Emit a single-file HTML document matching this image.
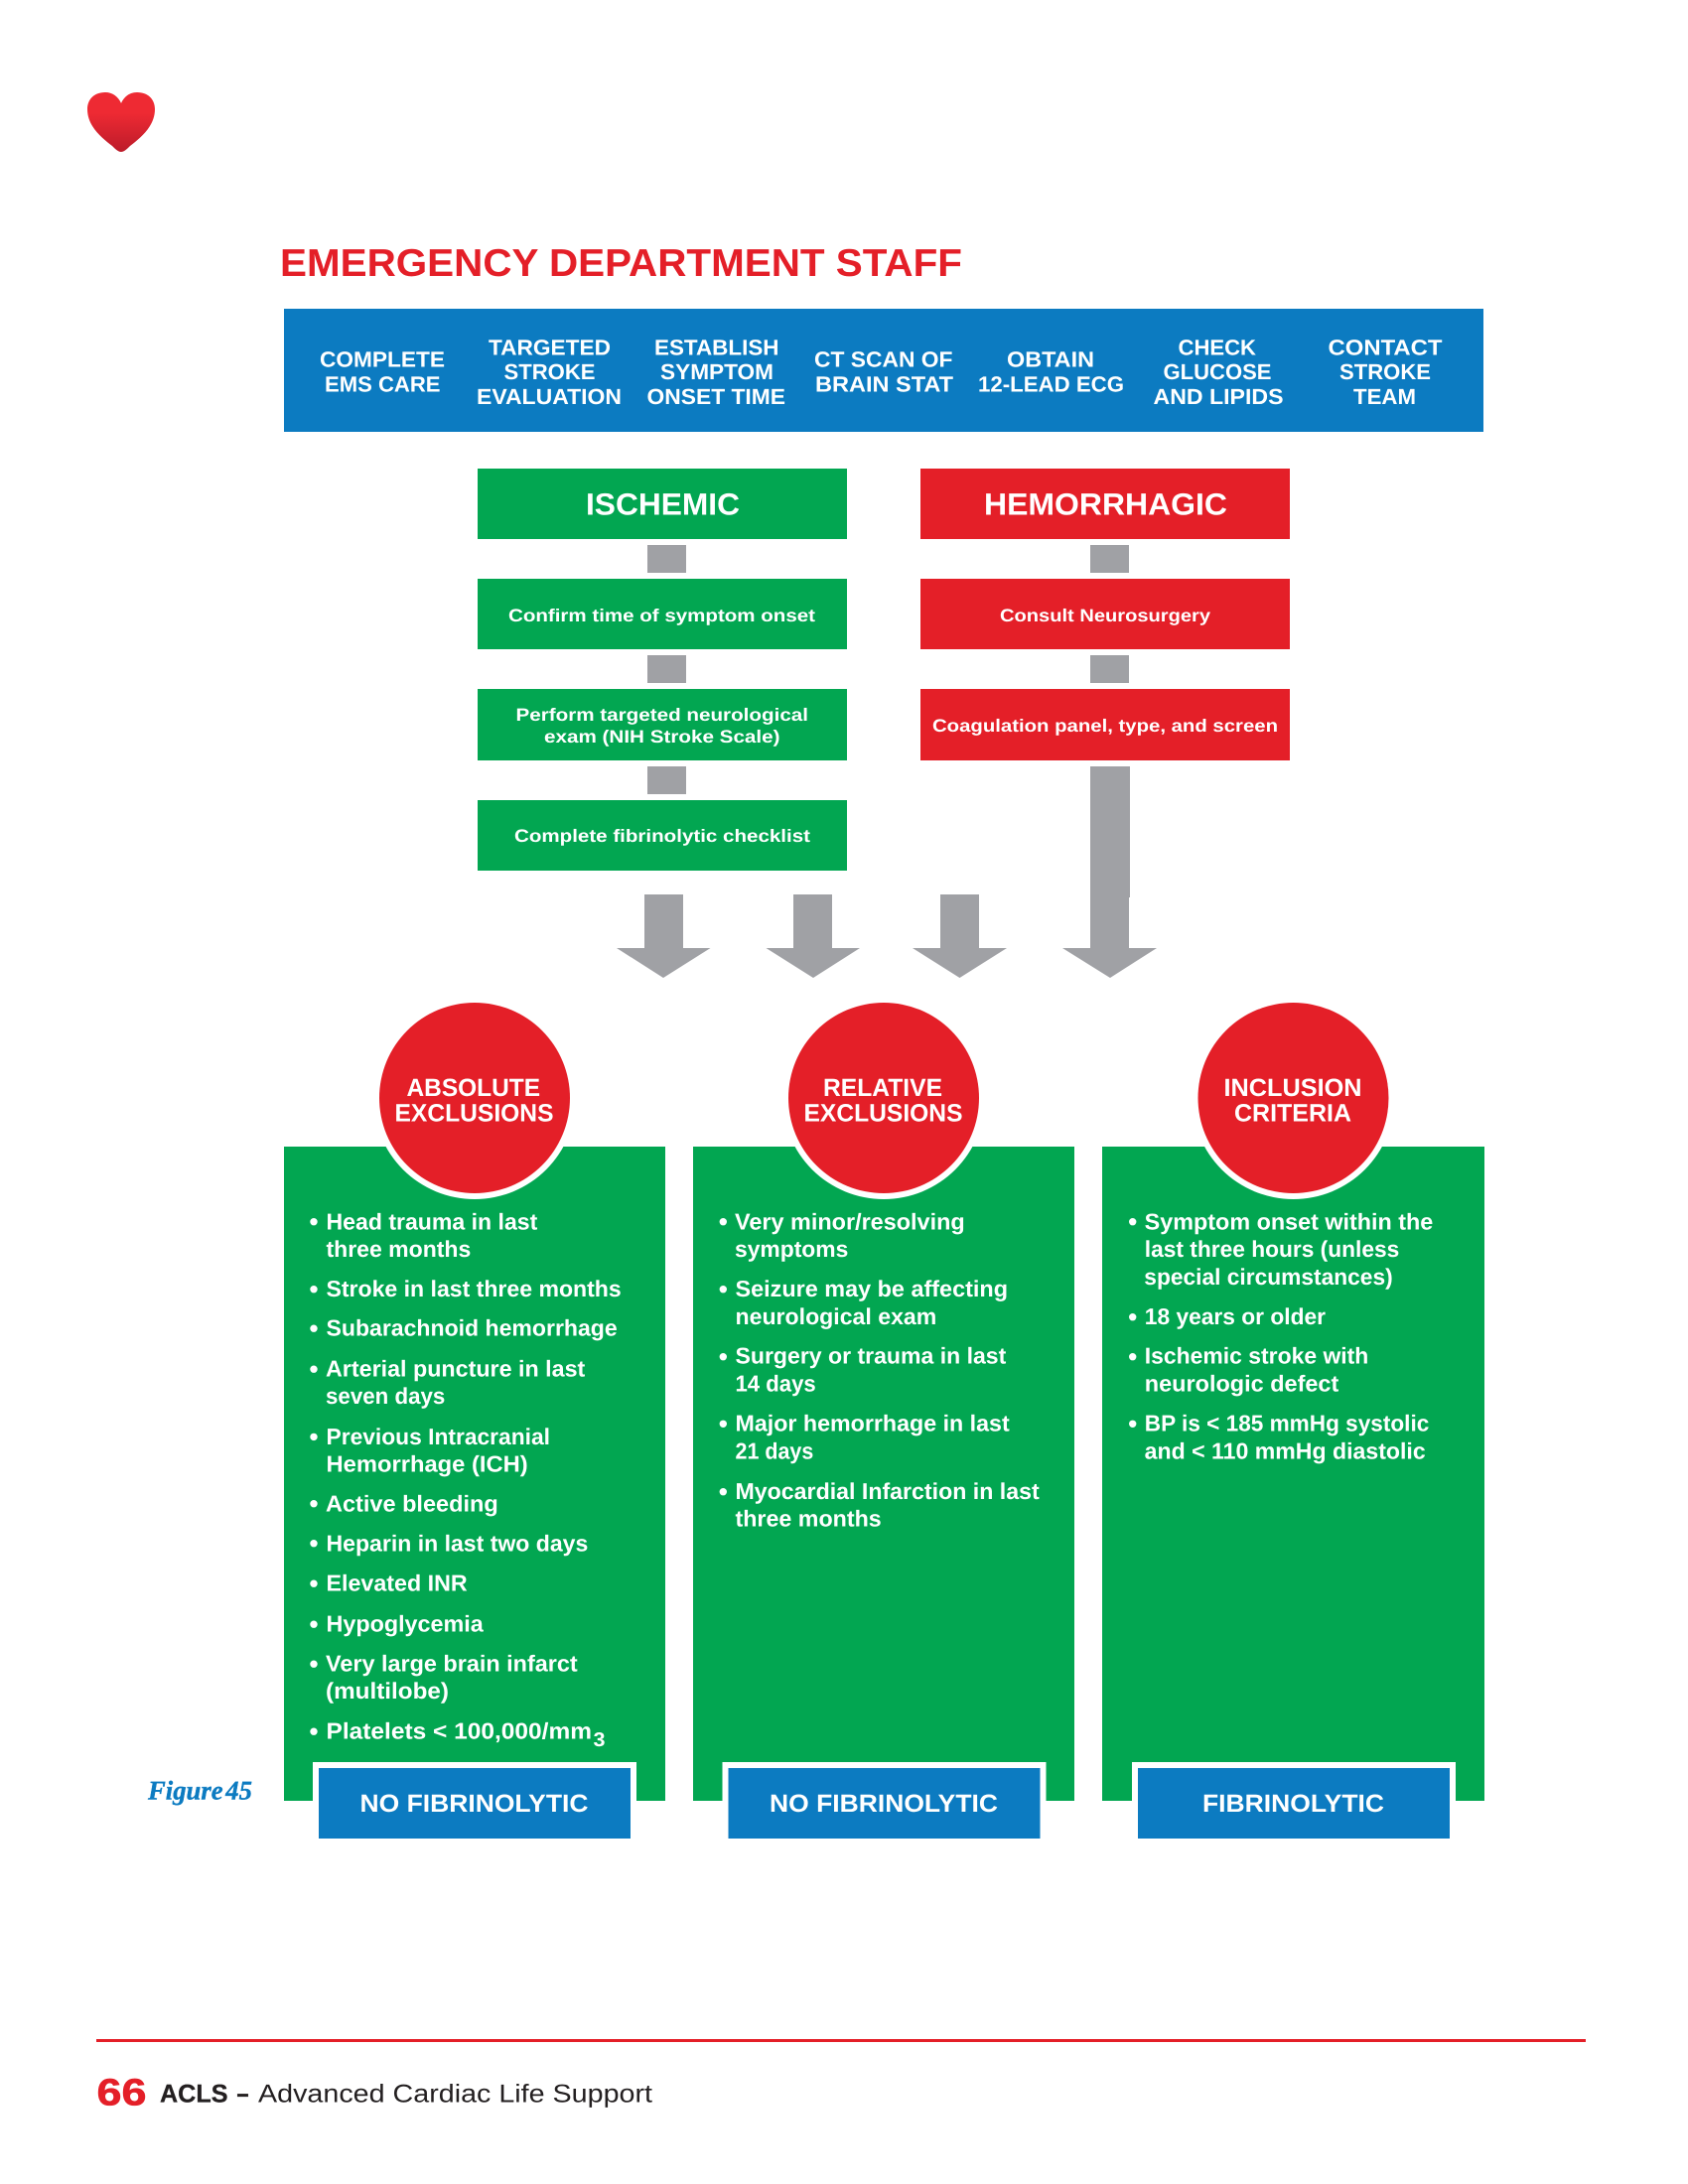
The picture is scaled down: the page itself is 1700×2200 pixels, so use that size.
<!DOCTYPE html>
<html lang="en">
<head>
<meta charset="utf-8">
<title>Emergency Department Staff</title>
<style>
html,body{margin:0;padding:0;background:#fff;}
svg{display:block;width:1700px;height:2200px;}
text{font-family:"Liberation Sans",sans-serif;font-weight:700;fill:#fff;text-rendering:geometricPrecision;}
.h{font-size:22px;}
.s{font-size:18px;}
.c{font-size:25px;}
.b{font-size:23px;}
.t{font-size:31px;}
</style>
</head>
<body>
<svg xmlns="http://www.w3.org/2000/svg" width="1700" height="2200" viewBox="0 0 1700 2200">
<defs>
<linearGradient id="hg" x1="0" y1="0" x2="0" y2="1"><stop offset="0.35" stop-color="#ee2a33"/><stop offset="1" stop-color="#bc1b2a"/></linearGradient>
</defs>
<rect width="1700" height="2200" fill="#fff"/>
<path d="M122 153C119 153 116 150 113 147C104 140 88 128 88 110C88 100 95 93 106 93C113 93 119 97 122 104C125 97 131 93 138 93C149 93 156 100 156 110C156 128 140 140 131 147C128 150 125 153 122 153Z" fill="url(#hg)"/>

<text x="282" y="278" font-size="39" textLength="687" lengthAdjust="spacingAndGlyphs" style="fill:#e41f28">EMERGENCY DEPARTMENT STAFF</text>

<rect x="286" y="311" width="1208" height="124" fill="#0c7bc1"/>
<g class="h">
<text class="h" x="322" y="369.3" textLength="126" lengthAdjust="spacingAndGlyphs">COMPLETE</text>
<text class="h" x="327" y="394.3" textLength="116.5" lengthAdjust="spacingAndGlyphs">EMS CARE</text>
<text class="h" x="492" y="357.3" textLength="123" lengthAdjust="spacingAndGlyphs">TARGETED</text>
<text class="h" x="507.5" y="382" textLength="92" lengthAdjust="spacingAndGlyphs">STROKE</text>
<text class="h" x="480" y="407" textLength="146" lengthAdjust="spacingAndGlyphs">EVALUATION</text>
<text class="h" x="659" y="357.3" textLength="125.5" lengthAdjust="spacingAndGlyphs">ESTABLISH</text>
<text class="h" x="665" y="382" textLength="114" lengthAdjust="spacingAndGlyphs">SYMPTOM</text>
<text class="h" x="651.5" y="407" textLength="139.5" lengthAdjust="spacingAndGlyphs">ONSET TIME</text>
<text class="h" x="820" y="369.3" textLength="139.5" lengthAdjust="spacingAndGlyphs">CT SCAN OF</text>
<text class="h" x="821" y="394.3" textLength="139" lengthAdjust="spacingAndGlyphs">BRAIN STAT</text>
<text class="h" x="1014" y="369.3" textLength="88" lengthAdjust="spacingAndGlyphs">OBTAIN</text>
<text class="h" x="985" y="394.3" textLength="147" lengthAdjust="spacingAndGlyphs">12-LEAD ECG</text>
<text class="h" x="1186.5" y="357.3" textLength="78.5" lengthAdjust="spacingAndGlyphs">CHECK</text>
<text class="h" x="1171.5" y="382" textLength="109" lengthAdjust="spacingAndGlyphs">GLUCOSE</text>
<text class="h" x="1161.5" y="407" textLength="131" lengthAdjust="spacingAndGlyphs">AND LIPIDS</text>
<text class="h" x="1337.5" y="357.3" textLength="115" lengthAdjust="spacingAndGlyphs">CONTACT</text>
<text class="h" x="1349" y="382" textLength="92" lengthAdjust="spacingAndGlyphs">STROKE</text>
<text class="h" x="1363" y="407" textLength="63" lengthAdjust="spacingAndGlyphs">TEAM</text>
</g>

<g fill="#02a651">
<rect x="481" y="472" width="372" height="71"/>
<rect x="481" y="583" width="372" height="71"/>
<rect x="481" y="694" width="372" height="72"/>
<rect x="481" y="806" width="372" height="71"/>
</g>
<g fill="#e41f28">
<rect x="927" y="472" width="372" height="71"/>
<rect x="927" y="583" width="372" height="71"/>
<rect x="927" y="694" width="372" height="72"/>
</g>
<g fill="#a0a1a5">
<rect x="652" y="549" width="39" height="28"/>
<rect x="652" y="660" width="39" height="28"/>
<rect x="652" y="772" width="39" height="28"/>
<rect x="1098" y="549" width="39" height="28"/>
<rect x="1098" y="660" width="39" height="28"/>
<polygon points="1098,772 1138,772 1138,904 1137,904 1137,955 1165,955 1118,985 1070,955 1098,955"/>
<polygon points="649,901 688,901 688,955 715.5,955 668,985 621,955 649,955"/>
<polygon points="799,901 838,901 838,955 866,955 819,985 771.5,955 799,955"/>
<polygon points="947,901 986,901 986,955 1014,955 966.5,985 919,955 947,955"/>
</g>

<text class="t" x="590" y="518.6" textLength="155" lengthAdjust="spacingAndGlyphs">ISCHEMIC</text>
<text class="t" x="991" y="518.6" textLength="245" lengthAdjust="spacingAndGlyphs">HEMORRHAGIC</text>
<text class="s" x="512" y="626" textLength="309" lengthAdjust="spacingAndGlyphs">Confirm time of symptom onset</text>
<text class="s" x="1007" y="626" textLength="212" lengthAdjust="spacingAndGlyphs">Consult Neurosurgery</text>
<text class="s" x="519.5" y="726" textLength="294.5" lengthAdjust="spacingAndGlyphs">Perform targeted neurological</text>
<text class="s" x="548" y="748" textLength="237.5" lengthAdjust="spacingAndGlyphs">exam (NIH Stroke Scale)</text>
<text class="s" x="939" y="737" textLength="348" lengthAdjust="spacingAndGlyphs">Coagulation panel, type, and screen</text>
<text class="s" x="518" y="848" textLength="298" lengthAdjust="spacingAndGlyphs">Complete fibrinolytic checklist</text>

<rect x="286" y="1155" width="384" height="659" fill="#02a651"/>
<rect x="698" y="1155" width="384" height="659" fill="#02a651"/>
<rect x="1110" y="1155" width="385" height="659" fill="#02a651"/>

<g fill="#fff">
<circle cx="478" cy="1106" r="102"/>
<circle cx="890" cy="1106" r="102"/>
<circle cx="1302.5" cy="1106" r="102"/>
</g>
<g fill="#e41f28">
<circle cx="478" cy="1106" r="96"/>
<circle cx="890" cy="1106" r="96"/>
<circle cx="1302.5" cy="1106" r="96"/>
</g>
<text class="c" x="409.5" y="1104" textLength="134.5" lengthAdjust="spacingAndGlyphs">ABSOLUTE</text>
<text class="c" x="397.5" y="1129.3" textLength="160" lengthAdjust="spacingAndGlyphs">EXCLUSIONS</text>
<text class="c" x="829" y="1104" textLength="120" lengthAdjust="spacingAndGlyphs">RELATIVE</text>
<text class="c" x="809.5" y="1129.3" textLength="160" lengthAdjust="spacingAndGlyphs">EXCLUSIONS</text>
<text class="c" x="1232.5" y="1104" textLength="139" lengthAdjust="spacingAndGlyphs">INCLUSION</text>
<text class="c" x="1243" y="1129.3" textLength="118" lengthAdjust="spacingAndGlyphs">CRITERIA</text>

<g fill="#fff">
<circle cx="316" cy="1230.7" r="3.7"/><circle cx="316" cy="1298.7" r="3.7"/><circle cx="316" cy="1338.2" r="3.7"/><circle cx="316" cy="1379.2" r="3.7"/><circle cx="316" cy="1447.4" r="3.7"/><circle cx="316" cy="1514.7" r="3.7"/><circle cx="316" cy="1554.7" r="3.7"/><circle cx="316" cy="1595.2" r="3.7"/><circle cx="316" cy="1636.2" r="3.7"/><circle cx="316" cy="1676.2" r="3.7"/><circle cx="316" cy="1744.2" r="3.7"/>
<circle cx="728.3" cy="1230.7" r="3.7"/><circle cx="728.3" cy="1298.7" r="3.7"/><circle cx="728.3" cy="1366.7" r="3.7"/><circle cx="728.3" cy="1434.3" r="3.7"/><circle cx="728.3" cy="1502.7" r="3.7"/>
<circle cx="1140.7" cy="1230.7" r="3.7"/><circle cx="1140.7" cy="1326.7" r="3.7"/><circle cx="1140.7" cy="1366.7" r="3.7"/><circle cx="1140.7" cy="1434.3" r="3.7"/>
</g>

<text class="b" x="328.5" y="1238.3" textLength="212.8" lengthAdjust="spacingAndGlyphs">Head trauma in last</text>
<text class="b" x="328.5" y="1266" textLength="145.8" lengthAdjust="spacingAndGlyphs">three months</text>
<text class="b" x="328.5" y="1306" textLength="297.2" lengthAdjust="spacingAndGlyphs">Stroke in last three months</text>
<text class="b" x="328.5" y="1345.7" textLength="293.2" lengthAdjust="spacingAndGlyphs">Subarachnoid hemorrhage</text>
<text class="b" x="328" y="1386.7" textLength="261.3" lengthAdjust="spacingAndGlyphs">Arterial puncture in last</text>
<text class="b" x="328" y="1414" textLength="120.3" lengthAdjust="spacingAndGlyphs">seven days</text>
<text class="b" x="328.5" y="1455" textLength="225.5" lengthAdjust="spacingAndGlyphs">Previous Intracranial</text>
<text class="b" x="328.5" y="1482.3" textLength="203.2" lengthAdjust="spacingAndGlyphs">Hemorrhage (ICH)</text>
<text class="b" x="328" y="1522.3" textLength="173.7" lengthAdjust="spacingAndGlyphs">Active bleeding</text>
<text class="b" x="328.5" y="1562.3" textLength="263.8" lengthAdjust="spacingAndGlyphs">Heparin in last two days</text>
<text class="b" x="328.5" y="1602.7" textLength="142.2" lengthAdjust="spacingAndGlyphs">Elevated INR</text>
<text class="b" x="328.5" y="1643.3" textLength="158.2" lengthAdjust="spacingAndGlyphs">Hypoglycemia</text>
<text class="b" x="328" y="1683.7" textLength="253.7" lengthAdjust="spacingAndGlyphs">Very large brain infarct</text>
<text class="b" x="328" y="1711" textLength="124" lengthAdjust="spacingAndGlyphs">(multilobe)</text>
<text class="b" x="328.5" y="1751.7" textLength="267.5" lengthAdjust="spacingAndGlyphs">Platelets &lt; 100,000/mm</text>
<text x="597.5" y="1759" font-size="20" textLength="12" lengthAdjust="spacingAndGlyphs">3</text>

<text class="b" x="740" y="1238.3" textLength="231.7" lengthAdjust="spacingAndGlyphs">Very minor/resolving</text>
<text class="b" x="740" y="1266" textLength="114.3" lengthAdjust="spacingAndGlyphs">symptoms</text>
<text class="b" x="740.5" y="1306" textLength="274.5" lengthAdjust="spacingAndGlyphs">Seizure may be affecting</text>
<text class="b" x="740.5" y="1334" textLength="202.8" lengthAdjust="spacingAndGlyphs">neurological exam</text>
<text class="b" x="740.5" y="1373.3" textLength="272.8" lengthAdjust="spacingAndGlyphs">Surgery or trauma in last</text>
<text class="b" x="740.5" y="1401.3" textLength="81.2" lengthAdjust="spacingAndGlyphs">14 days</text>
<text class="b" x="740.5" y="1441.7" textLength="276.2" lengthAdjust="spacingAndGlyphs">Major hemorrhage in last</text>
<text class="b" x="740.5" y="1469.3" textLength="78.8" lengthAdjust="spacingAndGlyphs">21 days</text>
<text class="b" x="740.5" y="1510" textLength="306.2" lengthAdjust="spacingAndGlyphs">Myocardial Infarction in last</text>
<text class="b" x="740.5" y="1537.7" textLength="147.2" lengthAdjust="spacingAndGlyphs">three months</text>

<text class="b" x="1152.7" y="1238.3" textLength="290.6" lengthAdjust="spacingAndGlyphs">Symptom onset within the</text>
<text class="b" x="1152.8" y="1266" textLength="256.5" lengthAdjust="spacingAndGlyphs">last three hours (unless</text>
<text class="b" x="1152.3" y="1294" textLength="250.4" lengthAdjust="spacingAndGlyphs">special circumstances)</text>
<text class="b" x="1152.8" y="1334" textLength="182.2" lengthAdjust="spacingAndGlyphs">18 years or older</text>
<text class="b" x="1152.8" y="1373.3" textLength="225.5" lengthAdjust="spacingAndGlyphs">Ischemic stroke with</text>
<text class="b" x="1152.8" y="1401.3" textLength="195.5" lengthAdjust="spacingAndGlyphs">neurologic defect</text>
<text class="b" x="1152.8" y="1441.7" textLength="286.5" lengthAdjust="spacingAndGlyphs">BP is &lt; 185 mmHg systolic</text>
<text class="b" x="1152.7" y="1469.3" textLength="283" lengthAdjust="spacingAndGlyphs">and &lt; 110 mmHg diastolic</text>

<g fill="#fff">
<rect x="315" y="1775" width="326" height="45"/>
<rect x="727.5" y="1775" width="326" height="45"/>
<rect x="1140" y="1775" width="326" height="45"/>
</g>
<g fill="#0c7bc1">
<rect x="321" y="1781" width="314" height="71"/>
<rect x="733.5" y="1781" width="314" height="71"/>
<rect x="1146" y="1781" width="314" height="71"/>
</g>
<text class="c" x="362.5" y="1825" textLength="230" lengthAdjust="spacingAndGlyphs">NO FIBRINOLYTIC</text>
<text class="c" x="775" y="1825" textLength="230" lengthAdjust="spacingAndGlyphs">NO FIBRINOLYTIC</text>
<text class="c" x="1211" y="1825" textLength="183" lengthAdjust="spacingAndGlyphs">FIBRINOLYTIC</text>

<text x="149" y="1812.5" font-size="27" textLength="105" lengthAdjust="spacingAndGlyphs" style="font-family:'Liberation Serif',serif;font-style:italic;fill:#0c7bc1;stroke:#0c7bc1;stroke-width:.4;word-spacing:-4px">Figure 45</text>

<rect x="97" y="2054" width="1500" height="3" fill="#e41f28"/>
<text x="97.5" y="2120.7" font-size="38" textLength="50" lengthAdjust="spacingAndGlyphs" style="fill:#e41f28;stroke:#e41f28;stroke-width:.6">66</text>
<text x="161" y="2117.7" font-size="25.6" textLength="68.5" lengthAdjust="spacingAndGlyphs" style="fill:#231f20;stroke:#231f20;stroke-width:.3">ACLS</text>
<text x="238.5" y="2117.7" font-size="25.6" textLength="12" lengthAdjust="spacingAndGlyphs" style="fill:#231f20;stroke:#231f20;stroke-width:.5">–</text>
<text x="260" y="2117.7" font-size="25.6" textLength="397" lengthAdjust="spacingAndGlyphs" style="fill:#231f20;font-weight:400">Advanced Cardiac Life Support</text>
</svg>
</body>
</html>
